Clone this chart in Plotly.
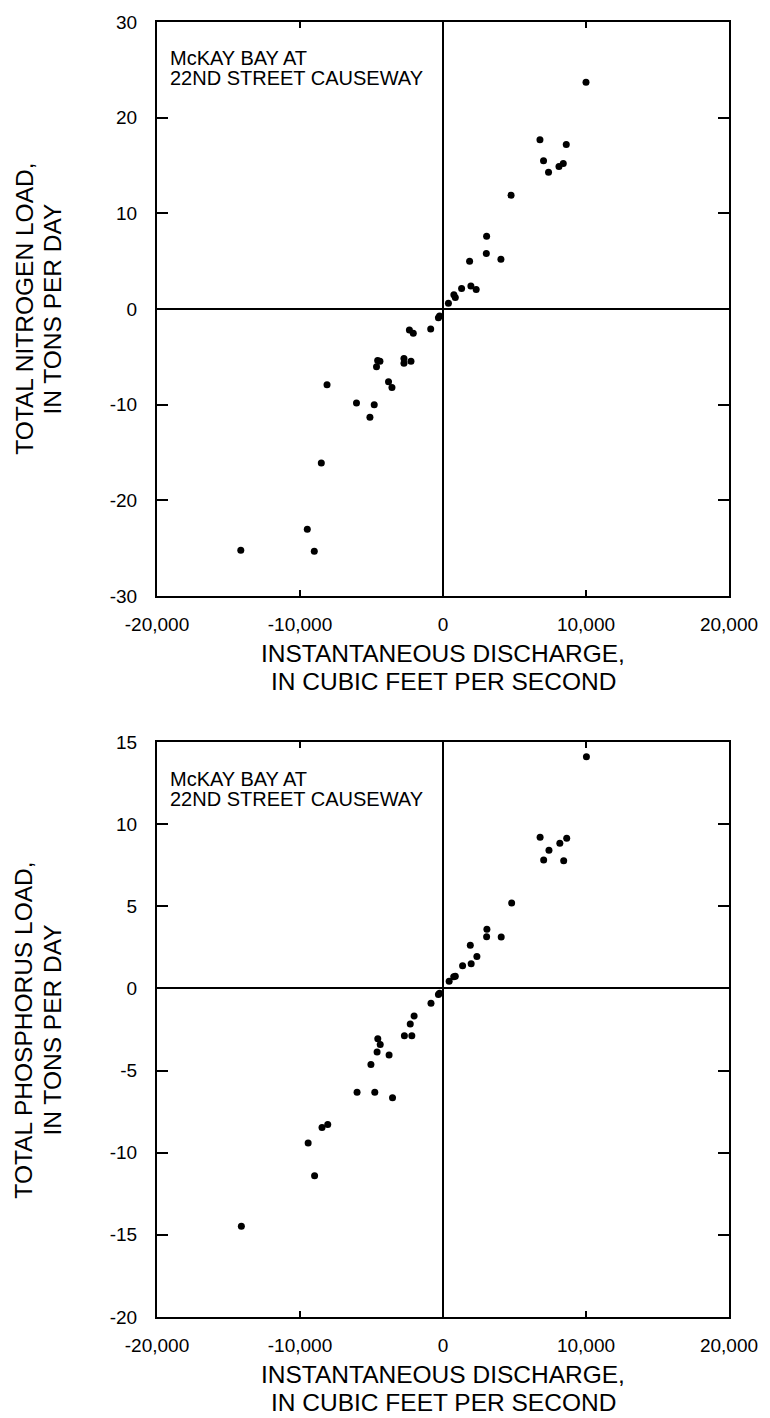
import plotly.graph_objects as go

# ---------------- data ----------------
# Nitrogen panel: instantaneous discharge (ft3/s) and total nitrogen load (tons/day)
n_discharge = [10000, 6780, 8620, 7030, 7380, 8110, 8410, 4760, 3050, 3030, 4050, 1860,
               1300, 1950, 2320, 760, 860, 380,
               -240, -320, -860, -2350, -2080, -4570, -4410, -4650, -2730, -2730, -2240,
               -3810, -3570, -8110, -6050, -4810, -5110, -8510, -9490, -9000, -14140]
n_load = [23.7, 17.7, 17.2, 15.5, 14.3, 14.9, 15.2, 11.9, 7.6, 5.8, 5.2, 5.0,
          2.15, 2.4, 2.05, 1.5, 1.2, 0.6,
          -0.73, -0.9, -2.08, -2.19, -2.53, -5.38, -5.45, -6.04, -5.17, -5.66, -5.45,
          -7.6, -8.19, -7.92, -9.83, -10.0, -11.3, -16.1, -23.0, -25.3, -25.2]

# Phosphorus panel: instantaneous discharge (ft3/s) and total phosphorus load (tons/day)
p_discharge = [10030, 6790, 8650, 8170, 7410, 7040, 8440, 4800, 3070, 3050, 4070, 1910,
               2370, 1970, 1370, 860, 750, 430, -240, -320, -840,
               -2020, -2290, -2700, -2180, -4560, -4390, -4610, -3770, -5040, -6010, -4770,
               -3530, -8060, -8460, -9430, -8980, -14100]
p_load = [14.1, 9.19, 9.13, 8.83, 8.40, 7.81, 7.77, 5.20, 3.60, 3.14, 3.12, 2.63,
          1.94, 1.50, 1.38, 0.73, 0.71, 0.43, -0.30, -0.38, -0.91,
          -1.68, -2.17, -2.89, -2.89, -3.06, -3.42, -3.87, -4.05, -4.64, -6.32, -6.32,
          -6.66, -8.28, -8.46, -9.41, -11.4, -14.47]

x_tickvals = [-20000, -10000, 0, 10000, 20000]
x_ticktext = ["-20,000", "-10,000", "0", "10,000", "20,000"]
n_tickvals = [-30, -20, -10, 0, 10, 20, 30]
n_ticktext = ["-30", "-20", "-10", "0", "10", "20", "30"]
p_tickvals = [-20, -15, -10, -5, 0, 5, 10, 15]
p_ticktext = ["-20", "-15", "-10", "-5", "0", "5", "10", "15"]

station = ["McKAY BAY AT", "22ND STREET CAUSEWAY"]
x_title = ["INSTANTANEOUS DISCHARGE,", "IN CUBIC FEET PER SECOND"]
n_title = ["TOTAL NITROGEN LOAD,", "IN TONS PER DAY"]
p_title = ["TOTAL PHOSPHORUS LOAD,", "IN TONS PER DAY"]

# ---------------- layout geometry ----------------
W, H = 770, 1418
ML, MR, MT, MB = 157, 38, 20, 101
PW, PH = W - ML - MR, H - MT - MB


def px_x(px):
    return (px - ML) / PW


def px_y(py):
    return (H - MB - py) / PH


FONT = "Liberation Sans, Arial, Helvetica, sans-serif"
BLACK = "#000000"
TITLE_SIZE = 24.5

marker = dict(color=BLACK, size=7)

fig = go.Figure()
fig.add_trace(go.Scatter(x=n_discharge, y=n_load, mode="markers", marker=marker,
                         xaxis="x", yaxis="y", showlegend=False, cliponaxis=False))
fig.add_trace(go.Scatter(x=p_discharge, y=p_load, mode="markers", marker=marker,
                         xaxis="x2", yaxis="y2", showlegend=False, cliponaxis=False))

common_axis = dict(showline=True, linecolor=BLACK, linewidth=2, mirror="ticks",
                   ticks="inside", tickcolor=BLACK, tickwidth=1.5,
                   showgrid=False, zeroline=True, zerolinecolor=BLACK, zerolinewidth=1.5,
                   tickfont=dict(family=FONT, size=19, color=BLACK))

xax = dict(common_axis, range=[-20000, 20000], tickvals=x_tickvals, ticktext=x_ticktext,
           ticklen=6, ticklabelstandoff=10)
yax_n = dict(common_axis, range=[-30, 30], tickvals=n_tickvals, ticktext=n_ticktext,
             ticklen=11, ticklabelstandoff=14)
yax_p = dict(common_axis, range=[-20, 15], tickvals=p_tickvals, ticktext=p_ticktext,
             ticklen=11, ticklabelstandoff=14)

top_bottom = px_y(595)
bot_top = px_y(741)

fig.update_layout(
    width=W, height=H,
    margin=dict(l=ML, r=MR, t=MT, b=MB),
    paper_bgcolor="white", plot_bgcolor="white",
    font=dict(family=FONT, color=BLACK),
    xaxis=dict(xax, domain=[0, 1], anchor="y"),
    yaxis=dict(yax_n, domain=[top_bottom, 1], anchor="x"),
    xaxis2=dict(xax, domain=[0, 1], anchor="y2"),
    yaxis2=dict(yax_p, domain=[0, bot_top], anchor="x2"),
)

ann = []
offset = 722  # pixel offset between the two panels
for k, ytitle in enumerate([n_title, p_title]):
    dy = k * offset
    # station label
    ann.append(dict(text=station[0], x=px_x(168), y=px_y(56 + dy), xref="paper", yref="paper",
                    xanchor="left", yanchor="middle", showarrow=False,
                    font=dict(family=FONT, size=20, color=BLACK)))
    ann.append(dict(text=station[1], x=px_x(168), y=px_y(76 + dy), xref="paper", yref="paper",
                    xanchor="left", yanchor="middle", showarrow=False,
                    font=dict(family=FONT, size=20, color=BLACK)))
    # x title
    ann.append(dict(text=x_title[0], x=px_x(444.5), y=px_y(652.5 + dy), xref="paper", yref="paper",
                    xanchor="center", yanchor="middle", showarrow=False,
                    font=dict(family=FONT, size=TITLE_SIZE, color=BLACK)))
    ann.append(dict(text=x_title[1], x=px_x(444.5), y=px_y(681 + dy), xref="paper", yref="paper",
                    xanchor="center", yanchor="middle", showarrow=False,
                    font=dict(family=FONT, size=TITLE_SIZE, color=BLACK)))
    # y title
    ann.append(dict(text=ytitle[0], x=px_x(23), y=px_y(307.5 + dy), xref="paper", yref="paper",
                    xanchor="center", yanchor="middle", showarrow=False, textangle=-90,
                    font=dict(family=FONT, size=TITLE_SIZE, color=BLACK)))
    ann.append(dict(text=ytitle[1], x=px_x(52), y=px_y(307.5 + dy), xref="paper", yref="paper",
                    xanchor="center", yanchor="middle", showarrow=False, textangle=-90,
                    font=dict(family=FONT, size=TITLE_SIZE, color=BLACK)))

fig.update_layout(annotations=ann)

fig.write_html("out.html")
